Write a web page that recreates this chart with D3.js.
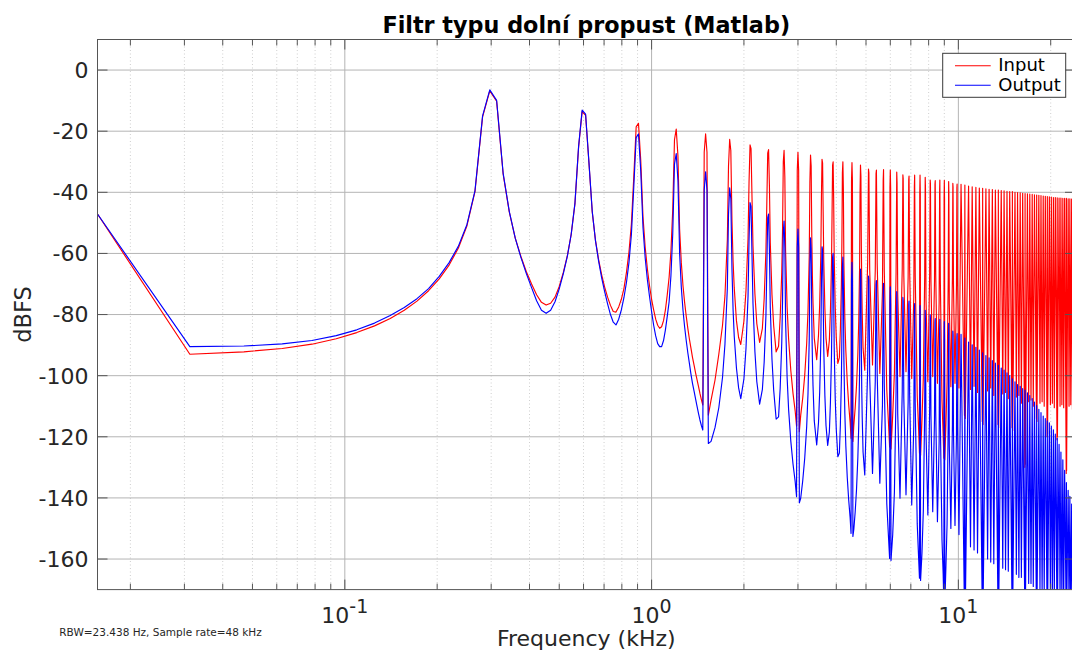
<!DOCTYPE html>
<html>
<head>
<meta charset="utf-8">
<script src="https://cdn.jsdelivr.net/npm/d3@7"></script>
<style>
  html, body { margin: 0; padding: 0; background: #ffffff; }
  svg { display: block; font-family: "DejaVu Sans", Verdana, sans-serif; }
</style>
</head>
<body>
<svg id="chart" width="1072" height="654"></svg>
<script>
// ---------------- DATA ----------------
// FFT bin numbers of the plotted points (bin spacing 15.625 Hz)
const fftBin = [
  1,2,3,4,5,6,7,8,9,10,11,12,13,14,15,16,17,18,19,20,
  21,22,23,24,25,26,27,28,29,30,31,32,33,34,35,36,37,38,39,40,
  41,42,43,44,45,46,47,48,49,50,51,52,53,54,55,56,57,58,59,60,
  61,62,63,64,65,66,67,68,69,70,71,72,73,74,75,76,77,78,79,80,
  81,82,83,84,85,86,87,88,89,90,91,92,93,94,95,96,97,98,
  100,103,106,109,111,113,114,115,116,117,118,119,121,123,125,128,130,132,133,134,135,136,137,139,141,144,
  147,149,151,152,153,154,155,156,158,160,163,166,168,170,171,172,173,174,175,177,179,182,185,188,190,191,192,193,194,
  196,199,202,205,207,209,210,211,212,213,214,215,217,221,224,226,228,229,230,231,232,233,235,237,240,243,245,247,248,249,250,251,252,254,256,259,
  262,264,266,267,268,269,270,271,273,275,278,281,284,286,287,288,289,290,292,295,298,301,303,305,306,307,308,309,310,311,313,317,
  324,326,327,329,336,343,345,346,348,355,362,364,365,367,374,379,382,383,384,385,386,391,396,401,403,404,406,413,420,422,423,425,432,439,441,442,444,451,458,460,461,463,470,475,478,479,480,481,482,
  487,492,497,499,500,502,509,516,518,519,521,528,535,537,538,540,547,554,556,557,559,566,571,574,575,576,577,578,583,588,593,595,596,598,605,612,614,615,617,624,631,633,634,636,643,
  653,670,672,674,691,701,710,720,730,739,749,766,768,770,787,797,806,816,826,835,845,862,864,866,883,893,902,912,922,931,
  941,958,960,962,979,989,998,1008,1018,1027,1037,1054,1056,1058,1075,1085,1094,1104,1114,1123,1133,1150,1152,1154,1171,1181,1190,1200,1210,1219,
  1229,1246,1248,1250,1267,1277,1286,1296,1306,1315,1325,1342,1344,1346,1363,1373,1382,1392,1402,1411,1421,1438,1440,1442,1459,1469,1478,1488,1498,1507,
  1517,1534,1536
];
// Input spectrum (dBFS)
const inputDb = [
  -47.1,-93.0,-92.2,-91.1,-89.7,-87.9,-85.9,-83.7,-81.3,-78.6,-75.6,-72.2,-68.3,-63.8,-58.3,-51.0,-39.8,-15.3,-6.8,-10.2,
  -34.0,-46.5,-55.0,-61.0,-66.0,-70.0,-73.5,-76.0,-76.9,-76.3,-74.3,-70.8,-66.2,-60.8,-53.8,-43.8,-25.3,-13.6,-14.8,-30.5,
  -46.5,-55.7,-62.0,-67.0,-71.0,-74.3,-77.0,-79.0,-79.2,-77.5,-75.0,-71.5,-66.2,-59.6,-50.4,-34.8,-18.6,-17.4,-29.5,-48.0,
  -58.0,-65.0,-70.5,-75.0,-78.5,-81.5,-83.5,-84.5,-84.0,-82.0,-78.5,-73.5,-67.8,-59.3,-45.8,-22.8,-19.3,-28.1,-52.2,-63.1,
  -70.5,-76.0,-80.5,-84.5,-88.0,-91.0,-94.0,-96.5,-99.0,-101.3,-103.5,-105.8,-107.8,-109.6,-26.9,-20.9,-26.9,-112.9,
  -108.0,-101.5,-93.0,-83.5,-73.9,-55.6,-31.5,-22.7,-26.3,-49.2,-62.7,-71.2,-82.0,-87.5,-89.8,-82.1,-72.1,-55.1,-36.6,-24.5,-25.7,-41.9,-57.5,-73.3,-83.0,-89.1,
  -84.5,-74.8,-59.0,-43.4,-27.2,-26.0,-38.1,-56.6,-73.6,-83.6,-92.2,-90.4,-81.1,-66.3,-52.8,-29.9,-26.3,-35.1,-59.2,-77.5,-88.0,-98.4,-105.8,-111.5,-116.5,-32.9,-26.9,-32.9,-118.3,
  -113.0,-107.3,-99.9,-89.5,-79.0,-60.7,-36.6,-27.8,-31.4,-54.3,-67.8,-76.3,-87.7,-94.8,-86.8,-76.8,-59.8,-41.3,-29.2,-30.4,-46.6,-62.2,-78.0,-87.7,-93.7,-88.5,-78.8,-63.0,-47.4,-31.2,-30.0,-42.1,-60.6,-77.6,-87.6,-96.0,
  -94.1,-84.8,-70.0,-56.5,-33.6,-30.0,-38.8,-62.9,-81.2,-91.7,-102.1,-109.5,-115.2,-120.5,-36.3,-30.3,-36.3,-121.5,-116.3,-110.6,-103.2,-92.8,-82.3,-64.0,-39.9,-31.1,-34.7,-57.6,-71.1,-79.6,-91.0,-98.2,
  -63.0,-32.4,-33.6,-65.4,-96.5,-65.7,-33.9,-32.7,-63.3,-99.3,-72.6,-36.2,-32.6,-65.5,-104.7,-116.0,-123.3,-38.7,-32.7,-38.7,-124.0,-112.9,-99.0,-66.3,-33.4,-37.0,-73.4,-100.3,-64.9,-34.3,-35.5,-67.3,-98.7,-67.7,-35.9,-34.7,-65.3,-100.9,-74.4,-38.0,-34.4,-67.3,-106.5,-117.8,-125.4,-40.4,-34.4,-40.4,-126.0,
  -114.6,-100.7,-68.0,-35.1,-38.7,-75.1,-102.0,-66.6,-36.0,-37.2,-69.0,-100.3,-69.2,-37.4,-36.2,-66.8,-102.5,-76.0,-39.6,-36.0,-68.9,-108.1,-119.4,-127.0,-42.1,-36.1,-42.1,-127.5,-116.0,-102.1,-69.4,-36.5,-40.1,-76.5,-103.6,-67.7,-37.1,-38.3,-70.1,-102.5,-70.3,-38.5,-37.3,-67.9,-104.0,
  -37.4,-113,-37.6,-114,-38.0,-104.5,-38.2,-103.5,-38.4,-105.5,-38.6,-115,-38.7,-116,-38.9,-105,-39.0,-104,-39.1,-106.5,-39.3,-116,-39.3,-117,-39.4,-106,-39.5,-105.5,-39.7,-107.5,
  -39.8,-117,-39.8,-118,-40.0,-107,-40.1,-106.5,-40.2,-109,-40.3,-130,-40.4,-129,-40.5,-108.5,-40.6,-108,-40.7,-110,-40.8,-114,-40.9,-115,-41.0,-109,-41.1,-108.5,-41.2,-110,
  -41.3,-120,-41.4,-119,-41.5,-109.5,-41.6,-109,-41.7,-110.5,-41.7,-121,-41.8,-120,-41.9,-110,-41.9,-109.5,-42.0,-110.5,-42.0,-132,-42.0,-131,-42.1,-110,-42.1,-109.5,-42.2,-111,
  -42.2,-125,-42.2
];
// Output spectrum after the low-pass filter (dBFS)
const outputDb = [
  -47.1,-90.5,-90.3,-89.6,-88.5,-86.9,-85.0,-82.8,-80.3,-77.7,-74.8,-71.5,-67.5,-63.0,-57.7,-50.6,-39.5,-15.0,-6.5,-9.9,
  -33.7,-46.3,-55.0,-61.3,-66.6,-71.2,-75.5,-78.6,-79.6,-78.6,-75.8,-71.6,-66.6,-61.0,-53.8,-43.6,-25.0,-13.1,-14.4,-30.3,
  -46.3,-55.8,-62.5,-68.0,-72.5,-76.5,-80.0,-82.5,-83.4,-81.5,-78.5,-74.5,-69.5,-63.0,-53.8,-38.2,-22.1,-20.9,-33.0,-51.5,
  -61.5,-68.5,-74.0,-79.0,-83.5,-87.0,-89.5,-90.5,-90.5,-88.5,-85.0,-80.5,-75.8,-67.3,-53.8,-30.8,-27.3,-36.1,-60.2,-71.1,
  -78.5,-84.0,-88.5,-92.5,-96.0,-99.5,-102.5,-105.0,-107.5,-110.0,-112.3,-114.5,-116.3,-117.8,-39.3,-33.3,-39.3,-122.2,
  -121.5,-117.0,-110.5,-100.5,-89.7,-71.4,-47.3,-38.5,-42.1,-65.0,-78.5,-87.0,-97.5,-104.0,-107.5,-101.0,-91.0,-74.0,-55.5,-43.4,-44.6,-60.8,-76.4,-92.2,-102.0,-109.3,
  -104.5,-95.5,-80.1,-64.5,-48.3,-47.1,-59.2,-77.7,-94.7,-104.7,-114.2,-113.5,-104.2,-89.4,-75.9,-53.0,-49.4,-58.2,-82.3,-100.6,-111.1,-121.5,-128.9,-134.6,-139.6,-58.0,-52.0,-58.0,-141.6,
  -140.1,-134.4,-127.0,-116.6,-106.1,-87.8,-63.7,-54.9,-58.5,-81.4,-94.9,-103.4,-114.8,-122.7,-115.4,-105.4,-88.4,-69.9,-57.8,-59.0,-75.2,-90.8,-106.6,-116.3,-122.8,-118.5,-108.8,-93.0,-77.4,-61.2,-60.0,-72.1,-90.6,-107.6,-117.6,-126.5,
  -125.3,-116.0,-101.2,-87.7,-64.8,-61.2,-70.0,-94.1,-112.4,-122.9,-133.3,-140.7,-146.4,-151.6,-68.9,-62.9,-68.9,-152.6,-150.3,-144.6,-137.2,-126.8,-116.3,-98.0,-73.9,-65.1,-68.7,-91.6,-105.1,-113.6,-125.0,-132.5,
  -98.0,-67.4,-68.6,-100.4,-132.0,-101.9,-70.1,-68.9,-99.5,-135.2,-109.8,-73.4,-69.8,-102.7,-141.9,-153.2,-159.8,-76.9,-70.9,-76.9,-160.5,-152.0,-138.1,-105.4,-72.5,-76.1,-112.5,-140.1,-105.0,-74.4,-75.6,-107.4,-139.0,-108.6,-76.8,-75.6,-106.2,-142.3,-116.4,-80.0,-76.4,-109.3,-148.5,-159.8,-166.3,-83.1,-77.1,-83.1,-167.0,
  -158.1,-144.2,-111.5,-78.6,-82.2,-118.6,-145.6,-110.7,-80.1,-81.3,-113.1,-144.5,-114.3,-82.5,-81.3,-111.9,-147.8,-121.6,-85.2,-81.6,-114.5,-153.7,-165.0,-175.0,-88.3,-82.3,-88.3,-175.0,-162.4,-148.5,-115.8,-82.9,-86.5,-122.9,-150.0,-116.0,-85.4,-86.6,-118.4,-149.0,-119.2,-87.4,-86.2,-116.8,-152.0,
  -86.5,-178,-87.7,-178,-89.0,-156,-89.9,-157,-90.7,-158,-91.6,-178,-92.5,-178,-93.4,-160,-94.2,-161,-95.1,-161.5,-95.9,-178,-96.6,-178,-97.5,-163,-98.2,-163.5,-99.1,-164,
  -100.0,-178,-101.0,-178,-102.0,-165,-102.9,-166,-103.5,-166,-104.2,-178,-104.7,-178,-105.6,-168,-106.5,-168,-107.5,-169,-108.6,-178,-109.8,-178,-111.0,-170,-112.1,-171,-113.2,-171,
  -114.0,-178,-114.8,-178,-115.4,-172,-116.5,-172,-117.7,-173,-119.1,-178,-120.5,-178,-122.5,-174,-125.0,-175,-127.5,-175,-131.0,-180,-135.0,-180,-137.5,-178,-139.5,-178,-142.0,-179,
  -144.0,-180,-146.0
];
const binHz = 15.625;                 // FFT bin spacing in Hz
const xDomainKHz = [0.015625, 24];    // first bin .. Nyquist
const yDomainDb = [-170, 10];
const yTicks = [0, -20, -40, -60, -80, -100, -120, -140, -160];
const xMajorTicks = [0.1, 1, 10];
const xMajorLabels = [["10", "-1"], ["10", "0"], ["10", "1"]];
const xMinorTicks = [0.02,0.03,0.04,0.05,0.06,0.07,0.08,0.09,0.2,0.3,0.4,0.5,0.6,0.7,0.8,0.9,2,3,4,5,6,7,8,9,20];
const seriesNames = ["Input", "Output"];
const seriesColors = ["#ff0000", "#0000ff"];
const titleText = "Filtr typu dolní propust (Matlab)";
const xLabelText = "Frequency (kHz)";
const yLabelText = "dBFS";
const noteText = "RBW=23.438 Hz, Sample rate=48 kHz";

// ---------------- LAYOUT ----------------
const plot = { left: 97.5, right: 1075, top: 39.5, bottom: 589.6 };
const svg = d3.select("#chart");
const x = d3.scaleLog().domain(xDomainKHz).range([plot.left, plot.right]);
const y = d3.scaleLinear().domain(yDomainDb).range([plot.bottom, plot.top]);
const textColor = "#262626";
const axisColor = "#555555";

svg.append("rect").attr("x", 0).attr("y", 0).attr("width", 1072).attr("height", 654).attr("fill", "#ffffff");

svg.append("defs").append("clipPath").attr("id", "plotClip")
  .append("rect").attr("x", plot.left).attr("y", plot.top)
  .attr("width", plot.right - plot.left).attr("height", plot.bottom - plot.top);

// grid
const grid = svg.append("g");
grid.selectAll("line.minor").data(xMinorTicks).join("line")
  .attr("x1", d => x(d)).attr("x2", d => x(d))
  .attr("y1", plot.top).attr("y2", plot.bottom)
  .attr("stroke", "#cfcfcf").attr("stroke-width", 1).attr("stroke-dasharray", "1,2.5");
grid.selectAll("line.vmajor").data(xMajorTicks).join("line")
  .attr("x1", d => x(d)).attr("x2", d => x(d))
  .attr("y1", plot.top).attr("y2", plot.bottom)
  .attr("stroke", "#b4b4b4").attr("stroke-width", 1);
grid.selectAll("line.hmajor").data(yTicks).join("line")
  .attr("x1", plot.left).attr("x2", plot.right)
  .attr("y1", d => y(d)).attr("y2", d => y(d))
  .attr("stroke", "#b4b4b4").attr("stroke-width", 1);

// series
const idx = d3.range(fftBin.length);
const seriesValues = [inputDb, outputDb];
const lines = svg.append("g").attr("clip-path", "url(#plotClip)");
seriesValues.forEach((vals, s) => {
  const gen = d3.line()
    .x(i => x(fftBin[i] * binHz / 1000))
    .y(i => y(vals[i]));
  lines.append("path").attr("d", gen(idx))
    .attr("fill", "none").attr("stroke", seriesColors[s])
    .attr("stroke-width", 1.15).attr("stroke-linejoin", "round");
});

// axes box
const ax = svg.append("g").attr("stroke", axisColor).attr("stroke-width", 1);
ax.append("rect").attr("x", plot.left).attr("y", plot.top)
  .attr("width", plot.right - plot.left).attr("height", plot.bottom - plot.top)
  .attr("fill", "none");
// y ticks left/right
yTicks.forEach(t => {
  ax.append("line").attr("x1", plot.left).attr("x2", plot.left + 10).attr("y1", y(t)).attr("y2", y(t));
  ax.append("line").attr("x1", plot.right - 10).attr("x2", plot.right).attr("y1", y(t)).attr("y2", y(t));
});
// x ticks bottom/top
xMajorTicks.forEach(t => {
  ax.append("line").attr("x1", x(t)).attr("x2", x(t)).attr("y1", plot.bottom).attr("y2", plot.bottom - 10);
  ax.append("line").attr("x1", x(t)).attr("x2", x(t)).attr("y1", plot.top).attr("y2", plot.top + 10);
});
xMinorTicks.forEach(t => {
  ax.append("line").attr("x1", x(t)).attr("x2", x(t)).attr("y1", plot.bottom).attr("y2", plot.bottom - 6);
  ax.append("line").attr("x1", x(t)).attr("x2", x(t)).attr("y1", plot.top).attr("y2", plot.top + 6);
});

// y tick labels
svg.append("g").selectAll("text").data(yTicks).join("text")
  .attr("x", plot.left - 9).attr("y", d => y(d)).attr("dy", "0.36em")
  .attr("text-anchor", "end").attr("font-size", 22).attr("fill", textColor)
  .text(d => String(d));

// x tick labels (10^n)
xMajorTicks.forEach((t, i) => {
  const tx = svg.append("text").attr("x", x(t)).attr("y", 622.7)
    .attr("text-anchor", "middle").attr("fill", textColor);
  tx.append("tspan").attr("font-size", 22).text(xMajorLabels[i][0]);
  tx.append("tspan").attr("font-size", 19).attr("dy", -9.5).text(xMajorLabels[i][1]);
});

// title and labels
svg.append("text").attr("x", (plot.left + plot.right) / 2).attr("y", 33)
  .attr("text-anchor", "middle").attr("font-size", 22.3).attr("font-weight", "bold")
  .attr("fill", "#000000").text(titleText);
svg.append("text").attr("x", (plot.left + plot.right) / 2).attr("y", 646)
  .attr("text-anchor", "middle").attr("font-size", 22).attr("fill", textColor).text(xLabelText);
svg.append("text").attr("transform", `translate(31,${(plot.top + plot.bottom) / 2}) rotate(-90)`)
  .attr("text-anchor", "middle").attr("font-size", 22.5).attr("fill", textColor).text(yLabelText);
svg.append("text").attr("x", 59.3).attr("y", 636)
  .attr("font-size", 10.5).attr("fill", textColor).text(noteText);

// legend
const lg = svg.append("g");
lg.append("rect").attr("x", 942.7).attr("y", 53.3).attr("width", 123).attr("height", 44)
  .attr("fill", "#ffffff").attr("stroke", "#3a3a3a").attr("stroke-width", 1);
seriesNames.forEach((name, i) => {
  const ly = 65.7 + i * 19.5;
  lg.append("line").attr("x1", 955).attr("x2", 990.7).attr("y1", ly).attr("y2", ly)
    .attr("stroke", seriesColors[i]).attr("stroke-width", 1.15);
  lg.append("text").attr("x", 998.3).attr("y", ly + 5.3)
    .attr("font-size", 18).attr("fill", "#000000").text(name);
});
</script>
</body>
</html>
